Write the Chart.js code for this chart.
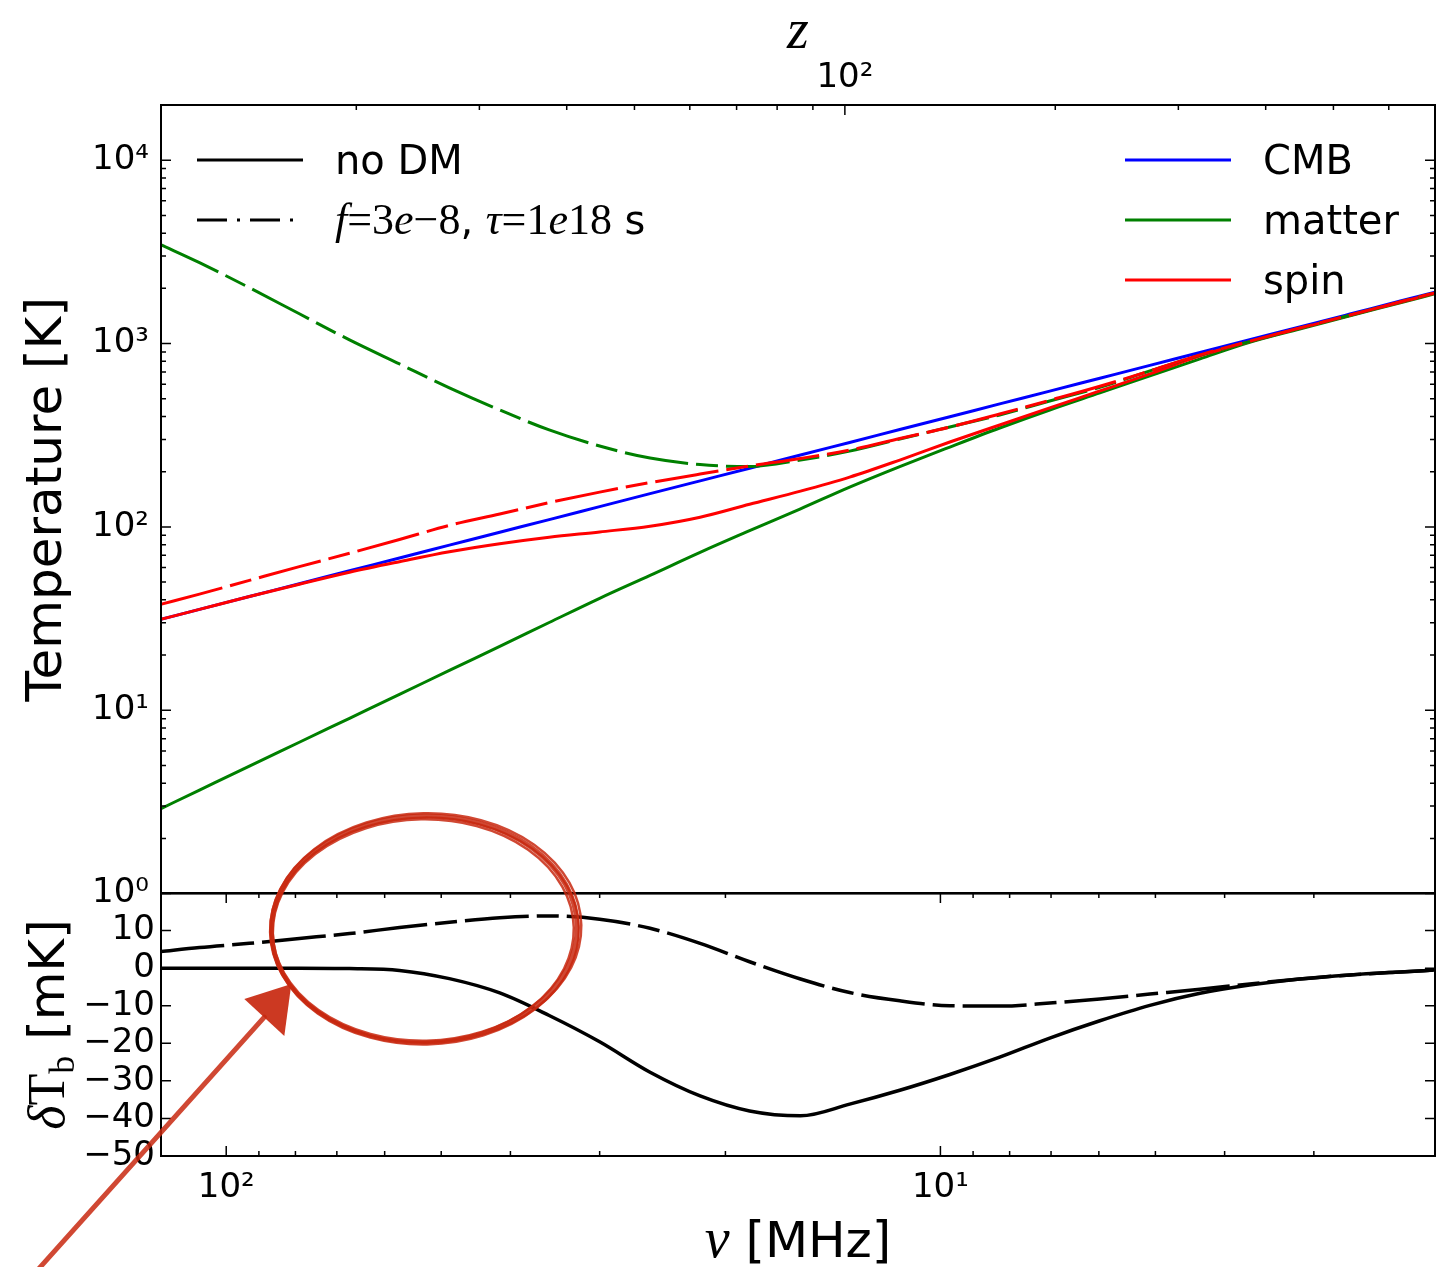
<!DOCTYPE html>
<html lang="en">
<head>
<meta charset="UTF-8">
<title>Temperature and brightness temperature</title>
<script src="https://cdn.jsdelivr.net/npm/chart.js"></script>
<style>
  body { margin: 0; background: #fff; }
  #wrap { position: relative; width: 1438px; height: 1267px; overflow: hidden; background: #fff; }
  canvas { position: absolute; left: 0; }
  #topChart { top: 0; }
  #bottomChart { top: 780px; }
</style>
</head>
<body>
<div id="wrap">
  <canvas id="topChart" width="1438" height="926" style="width:1438px;height:926px"></canvas>
  <canvas id="bottomChart" width="1438" height="487" style="width:1438px;height:487px"></canvas>
</div>
<script>
// frequency samples (MHz), shared by both panels
const nu = [123.6, 109.0, 92.8, 79.0, 67.2, 57.2, 48.7, 41.4, 35.3, 30.0, 25.5, 21.7, 18.5, 15.7,
            13.4, 11.4, 9.70, 8.26, 7.03, 5.98, 5.09, 4.33, 3.69, 3.14, 2.67, 2.27, 2.03];

// top panel, temperatures in K
const tCmb        = [31.3, 35.5, 41.7, 49.0, 57.6, 67.7, 79.5, 93.5, 109.6, 129, 151.8, 178.3, 209, 246.5,
                     288.8, 339.5, 399, 468.5, 550.5, 647, 760, 894, 1049, 1232, 1449, 1705, 1906];
const tMatterNoDM = [2.90, 3.67, 4.96, 6.69, 9.04, 12.2, 16.5, 22.3, 30.1, 40.8, 54.4, 72.6, 95.3, 125.4,
                     164.8, 213.3, 272.6, 346.2, 434.2, 537.8, 666, 825, 1015, 1200, 1417, 1669, 1870];
const tSpinNoDM   = [31.3, 35.5, 41.7, 48.7, 56.6, 64.6, 73.2, 80.9, 87.8, 93.9, 100.9, 113.0, 133.0, 156.7,
                     186.9, 231.5, 290.3, 359.5, 445.4, 551.4, 683, 856.6, 1025, 1210, 1425, 1680, 1880];
const tMatterDM   = [3462, 2761, 2016, 1453, 1047, 774, 573, 434, 338, 276, 237.4, 218.8, 213.3, 231.5,
                     259, 301.5, 350.6, 408, 486, 576.5, 709, 865, 1025, 1212, 1428, 1688, 1888];
const tSpinDM     = [37.8, 43.0, 51.1, 60.7, 71.8, 85.4, 101.9, 117.5, 135.6, 154.8, 174.4, 194.1, 214.7, 236.2,
                     262.5, 303.4, 350.6, 413, 490, 584.6, 709.4, 867, 1030, 1215, 1430, 1690, 1890];

// bottom panel, brightness temperature difference in mK
const dTbNoDM = [0, 0, 0, 0, -0.1, -0.6, -2.8, -6.6, -12.6, -19.6, -27.7, -34.0, -38.0, -39.3,
                 -36.2, -32.5, -28.3, -23.7, -18.6, -14.0, -9.9, -6.7, -4.5, -2.9, -1.8, -1.0, -0.5];
const dTbDM   = [4.4, 5.5, 6.6, 7.9, 9.2, 10.8, 12.2, 13.4, 13.9, 13.0, 10.6, 6.6, 1.7, -2.9,
                 -6.5, -8.7, -10.0, -10.1, -9.3, -8.2, -6.9, -5.6, -4.2, -2.9, -1.8, -1.0, -0.5];

// axes
const NU_MIN = 2.03, NU_MAX = 123.4;
const Z_MIN = 10.51, Z_MAX = 698.7;
const tempTicks = [1, 10, 100, 1000, 10000];
const zTicks = [100];
const nuTicks = [100, 10];
const dTbTicks = [-50, -40, -30, -20, -10, 0, 10, 20];

const SANS = '"DejaVu Sans", sans-serif';
const SERIF = '"Liberation Serif", "DejaVu Serif", serif';
const RED = '#ff0000', GREEN = '#008000', BLUE = '#0000ff';
const DASH = [64, 8, 22, 8];
const SUP = { '0': '⁰', '1': '¹', '2': '²', '3': '³', '4': '⁴' };
const pow10 = v => '10' + SUP[String(Math.round(Math.log10(v)))];

Chart.defaults.font.family = SANS;
Chart.defaults.color = '#000';

const pts = ys => nu.map((x, i) => ({ x, y: ys[i] }));

function line(ys, color, dashed, width) {
  return {
    data: pts(ys), borderColor: color, borderWidth: width || 3,
    borderDash: dashed ? DASH : [], pointRadius: 0,
    cubicInterpolationMode: 'monotone', fill: false
  };
}

function logMinor(min, max) {
  const out = [];
  for (let e = Math.floor(Math.log10(min)); e <= Math.ceil(Math.log10(max)); e++) {
    for (let m = 2; m <= 9; m++) {
      const v = m * Math.pow(10, e);
      if (v > min && v < max) out.push(v);
    }
  }
  return out;
}

// inward ticks, matplotlib style
function marks(ctx, scale, values, len, edge, a) {
  ctx.beginPath();
  values.forEach(v => {
    const p = scale.getPixelForValue(v);
    if (edge === 'left')   { ctx.moveTo(a.left, p);   ctx.lineTo(a.left + len, p); }
    if (edge === 'right')  { ctx.moveTo(a.right, p);  ctx.lineTo(a.right - len, p); }
    if (edge === 'top')    { ctx.moveTo(p, a.top);    ctx.lineTo(p, a.top + len); }
    if (edge === 'bottom') { ctx.moveTo(p, a.bottom); ctx.lineTo(p, a.bottom - len); }
  });
  ctx.stroke();
}

function frame(ctx, a) {
  ctx.save();
  ctx.strokeStyle = '#000';
  ctx.lineWidth = 2;
  ctx.strokeRect(a.left, a.top, a.right - a.left, a.bottom - a.top);
  ctx.restore();
}

// text made of runs in different fonts: [text, font, dy]
function drawRuns(ctx, runs, x, y, align) {
  let w = 0;
  runs.forEach(r => { ctx.font = r[1]; w += ctx.measureText(r[0]).width; });
  let cx = align === 'center' ? x - w / 2 : x;
  ctx.textAlign = 'left';
  ctx.textBaseline = 'alphabetic';
  ctx.fillStyle = '#000';
  runs.forEach(r => {
    ctx.font = r[1];
    ctx.fillText(r[0], cx, y + (r[2] || 0));
    cx += ctx.measureText(r[0]).width;
  });
}

function legendLine(ctx, x0, x1, y, color, dash) {
  ctx.save();
  ctx.strokeStyle = color;
  ctx.lineWidth = 3;
  ctx.setLineDash(dash);
  ctx.beginPath();
  ctx.moveTo(x0, y);
  ctx.lineTo(x1, y);
  ctx.stroke();
  ctx.restore();
}

const topDecor = {
  id: 'topDecor',
  afterDatasetsDraw(chart) {
    const ctx = chart.ctx, a = chart.chartArea;
    const y = chart.scales.y, z = chart.scales.z;
    frame(ctx, a);
    ctx.save();
    ctx.strokeStyle = '#000';
    ctx.lineWidth = 1.5;
    const minor = logMinor(1, 20000);
    marks(ctx, y, tempTicks, 10, 'left', a);
    marks(ctx, y, tempTicks, 10, 'right', a);
    marks(ctx, y, minor, 5, 'left', a);
    marks(ctx, y, minor, 5, 'right', a);
    marks(ctx, z, zTicks, 10, 'top', a);
    marks(ctx, z, logMinor(Z_MIN, Z_MAX), 5, 'top', a);
    ctx.restore();

    // legends
    const L = a.left, R = a.right, T = a.top;
    const sans = '40px ' + SANS, it = 'italic 44px ' + SERIF, up = '44px ' + SERIF;
    legendLine(ctx, L + 36, L + 142, T + 55, '#000', []);
    legendLine(ctx, L + 36, L + 142, T + 115, '#000', [30, 10, 3, 10]);
    drawRuns(ctx, [['no DM', sans]], L + 174, T + 55 + 14);
    drawRuns(ctx, [['f', it], ['=3', up], ['e', it], ['−8', up], [', ', sans],
                   ['τ', it], ['=1', up], ['e', it], ['18', up], [' s', sans]], L + 174, T + 115 + 14);
    [['CMB', BLUE], ['matter', GREEN], ['spin', RED]].forEach((e, i) => {
      legendLine(ctx, R - 310, R - 204, T + 55 + 60 * i, e[1], []);
      drawRuns(ctx, [[e[0], sans]], R - 172, T + 55 + 60 * i + 14);
    });
  }
};

const bottomDecor = {
  id: 'bottomDecor',
  afterDatasetsDraw(chart) {
    const ctx = chart.ctx, a = chart.chartArea;
    const x = chart.scales.x, y = chart.scales.y;
    frame(ctx, a);
    ctx.save();
    ctx.strokeStyle = '#000';
    ctx.lineWidth = 1.5;
    const inner = dTbTicks.filter(v => v > -50 && v < 20);
    marks(ctx, y, inner, 10, 'left', a);
    marks(ctx, y, inner, 10, 'right', a);
    const minor = logMinor(NU_MIN, NU_MAX).filter(v => v !== 100 && v !== 10);
    ['top', 'bottom'].forEach(edge => {
      marks(ctx, x, nuTicks, 10, edge, a);
      marks(ctx, x, minor, 5, edge, a);
    });
    ctx.restore();
  },
  afterDraw(chart) {
    const ctx = chart.ctx, a = chart.chartArea;
    const x = chart.scales.x, y = chart.scales.y;
    // axis titles with math glyphs
    drawRuns(ctx, [['ν', 'italic 56px ' + SERIF], [' [MHz]', '50px ' + SANS]],
             (a.left + a.right) / 2, chart.height - 10, 'center');
    ctx.save();
    ctx.translate(46, (a.top + a.bottom) / 2);
    ctx.rotate(-Math.PI / 2);
    drawRuns(ctx, [['δ', 'italic 52px ' + SERIF], ['T', '52px ' + SERIF], ['b', '36px ' + SERIF, 10],
                   [' [mK]', '50px ' + SANS]], 0, 18, 'center');
    ctx.restore();

    // hand-drawn annotation: circle around the small-dT region with an arrow
    const cx = x.getPixelForValue(52.8), cy = y.getPixelForValue(10.4);
    ctx.save();
    ctx.strokeStyle = 'rgba(200,40,15,0.85)';
    ctx.lineCap = 'round';
    [[0, 0, 0, 5], [1.5, -1, 2.5, 2.5], [-1, 1.5, -2.5, 2.5], [0.5, 2, 1, 2]].forEach(s => {
      ctx.lineWidth = s[3];
      ctx.beginPath();
      ctx.ellipse(cx + s[0], cy + s[1], 153 + s[2], 113 + s[2] * 0.7, -0.02, 0, 2 * Math.PI);
      ctx.stroke();
    });
    ctx.lineWidth = 5;
    ctx.beginPath();
    ctx.moveTo(cx - 385, cy + 339);
    ctx.lineTo(cx - 160, cy + 88);
    ctx.stroke();
    ctx.fillStyle = 'rgba(200,40,15,0.92)';
    ctx.beginPath();
    ctx.moveTo(cx - 133, cy + 55);
    ctx.lineTo(cx - 180, cy + 70);
    ctx.lineTo(cx - 140, cy + 107);
    ctx.closePath();
    ctx.fill();
    ctx.restore();
  }
};

new Chart(document.getElementById('topChart'), {
  type: 'line',
  data: {
    datasets: [
      line(tSpinDM, RED, true),
      line(tMatterDM, GREEN, true),
      line(tSpinNoDM, RED, false),
      line(tMatterNoDM, GREEN, false),
      line(tCmb, BLUE, false)
    ]
  },
  options: {
    responsive: false,
    animation: false,
    events: [],
    layout: { padding: { left: 0, right: 3, top: 0, bottom: 27 } },
    plugins: { legend: { display: false }, tooltip: { enabled: false } },
    scales: {
      x: { type: 'logarithmic', reverse: true, min: NU_MIN, max: NU_MAX, display: false },
      z: {
        type: 'logarithmic', axis: 'x', position: 'top', min: Z_MIN, max: Z_MAX,
        grid: { display: false, drawTicks: false }, border: { display: false },
        afterBuildTicks: s => { s.ticks = zTicks.map(v => ({ value: v })); },
        afterFit: s => { s.height = 105; },
        ticks: { callback: v => pow10(v), font: { size: 34 }, padding: 6, autoSkip: false, maxRotation: 0 },
        title: { display: true, text: 'z', font: { family: SERIF, size: 56, style: 'italic' }, padding: { top: 0, bottom: 0 } }
      },
      y: {
        type: 'logarithmic', position: 'left', min: 1, max: 20000,
        grid: { display: false, drawTicks: false }, border: { display: false },
        afterBuildTicks: s => { s.ticks = tempTicks.map(v => ({ value: v })); },
        afterFit: s => { s.width = 161; },
        ticks: { callback: v => pow10(v), font: { size: 34 }, padding: 12, autoSkip: false },
        title: { display: true, text: 'Temperature [K]', font: { size: 50 }, padding: { top: 18, bottom: 0 } }
      }
    }
  },
  plugins: [topDecor]
});

new Chart(document.getElementById('bottomChart'), {
  type: 'line',
  data: {
    datasets: [
      line(dTbDM, '#000', true, 3.5),
      line(dTbNoDM, '#000', false, 3.5)
    ]
  },
  options: {
    responsive: false,
    animation: false,
    events: [],
    layout: { padding: { left: 0, right: 3, top: 113, bottom: 0 } },
    plugins: { legend: { display: false }, tooltip: { enabled: false } },
    scales: {
      x: {
        type: 'logarithmic', reverse: true, min: NU_MIN, max: NU_MAX, position: 'bottom',
        grid: { display: false, drawTicks: false }, border: { display: false },
        afterBuildTicks: s => { s.ticks = nuTicks.map(v => ({ value: v })); },
        afterFit: s => { s.height = 111; },
        ticks: { callback: v => pow10(v), font: { size: 34 }, padding: 12, autoSkip: false, maxRotation: 0 }
      },
      y: {
        type: 'linear', position: 'left', min: -50, max: 20,
        grid: { display: false, drawTicks: false }, border: { display: false },
        afterBuildTicks: s => { s.ticks = dTbTicks.map(v => ({ value: v })); },
        afterFit: s => { s.width = 161; },
        ticks: {
          callback: v => v === 20 ? '' : (v < 0 ? '−' + Math.abs(v) : String(v)),
          font: { size: 34 }, padding: 6, autoSkip: false
        }
      }
    }
  },
  plugins: [bottomDecor]
});
</script>
</body>
</html>
